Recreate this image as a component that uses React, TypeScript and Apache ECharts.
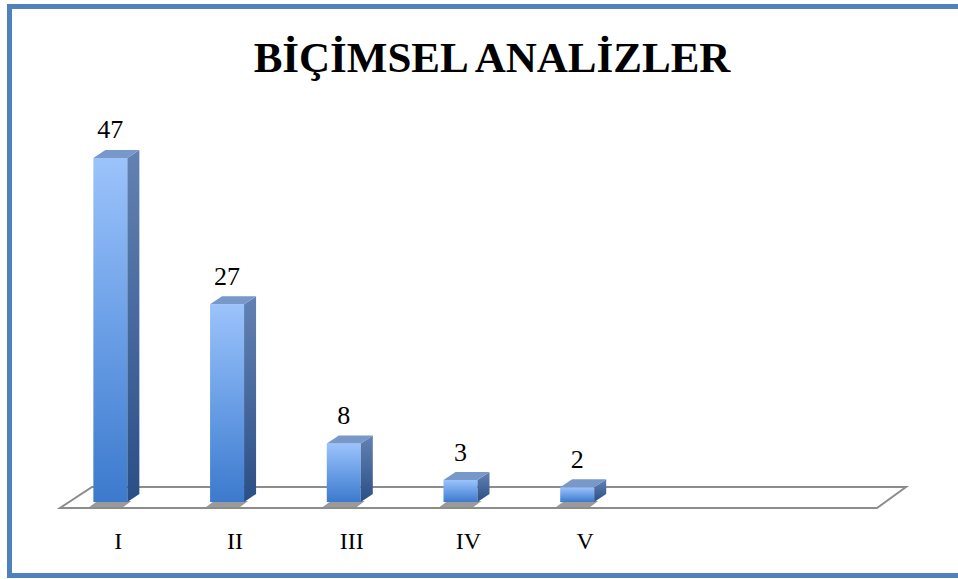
import React, { useEffect, useRef } from "react";
import * as echarts from "echarts";

const TITLE = "BİÇİMSEL ANALİZLER";
const categories = ["I", "II", "III", "IV", "V", "", ""];
const values = [47, 27, 8, 3, 2];

export default function App() {
  const ref = useRef<HTMLDivElement>(null);
  useEffect(() => {
    if (!ref.current) return;
    const chart = echarts.init(ref.current, null, { renderer: "svg" });
    const barData = values.map((v, i) => [i, v]);

    const frontGrad = new echarts.graphic.LinearGradient(0, 0, 0, 1, [
      { offset: 0, color: "#9cc3fb" },
      { offset: 0.5, color: "#6a9fe6" },
      { offset: 1, color: "#3c7acd" },
    ]);
    const sideGrad = new echarts.graphic.LinearGradient(0, 0, 0, 1, [
      { offset: 0, color: "#6382b3" },
      { offset: 1, color: "#2a4f86" },
    ]);

    const option: any = {
      animation: false,
      backgroundColor: "#ffffff",
      title: {
        text: TITLE,
        left: 487,
        top: 31,
        textAlign: "center",
        textStyle: {
          fontFamily: "Liberation Serif",
          fontWeight: "bold",
          fontSize: 43,
          color: "#000",
        },
      },
      grid: { left: 60, right: 81, top: 136, bottom: 77 },
      xAxis: {
        type: "category",
        data: categories,
        axisLine: { show: false },
        axisTick: { show: false },
        splitLine: { show: false },
        axisLabel: {
          color: "#000",
          fontFamily: "Liberation Serif",
          fontSize: 24,
          margin: 27,
        },
      },
      yAxis: { type: "value", min: 0, max: 50, show: false },
      graphic: [
        {
          type: "rect",
          shape: { x: 9.5, y: 6.5, width: 1000, height: 569 },
          style: { fill: "none", stroke: "#4f81bd", lineWidth: 5 },
          silent: true,
          z: 100,
        },
      ],
      series: [
        {
          type: "custom",
          data: [[0, 0]],
          z: 1,
          silent: true,
          renderItem: (params: any, api: any) => {
            const cs = params.coordSys;
            const y0 = cs.y + cs.height;
            const yf = y0 + 6;
            const yb = y0 - 15;
            return {
              type: "polygon",
              shape: {
                points: [
                  [cs.x, yf],
                  [cs.x + cs.width, yf],
                  [cs.x + cs.width + 29, yb],
                  [cs.x + 32, yb],
                ],
              },
              style: { fill: "#ffffff", stroke: "#8c8c8c", lineWidth: 2 },
            };
          },
        },
        {
          type: "custom",
          data: barData,
          encode: { x: 0, y: 1 },
          z: 2,
          renderItem: (params: any, api: any) => {
            const idx = api.value(0);
            const v = api.value(1);
            const top = api.coord([idx, v]);
            const base = api.coord([idx, 0]);
            const bw = 34;
            const dx = 12;
            const dy = 8;
            const x0 = top[0] - 8 - bw / 2;
            const x1 = x0 + bw;
            const yt = top[1];
            const yb = base[1];
            return {
              type: "group",
              children: [
                {
                  type: "polygon",
                  shape: {
                    points: [
                      [x0 - 4, yb + 5],
                      [x1 - 4, yb + 5],
                      [x1 + 4, yb - 1],
                      [x0 + 4, yb - 1],
                    ],
                  },
                  style: { fill: "#9a9a9a" },
                },
                {
                  type: "rect",
                  shape: { x: x0, y: yt, width: bw, height: yb - yt },
                  style: { fill: frontGrad },
                },
                {
                  type: "polygon",
                  shape: {
                    points: [
                      [x1, yt],
                      [x1 + dx, yt - dy],
                      [x1 + dx, yb - dy],
                      [x1, yb],
                    ],
                  },
                  style: { fill: sideGrad },
                },
                {
                  type: "polygon",
                  shape: {
                    points: [
                      [x0, yt],
                      [x0 + dx, yt - dy],
                      [x1 + dx, yt - dy],
                      [x1, yt],
                    ],
                  },
                  style: { fill: "#7898c9" },
                },
                {
                  type: "text",
                  style: {
                    text: String(v),
                    x: (x0 + x1) / 2,
                    y: yt - dy - 7,
                    textAlign: "center",
                    textVerticalAlign: "bottom",
                    fontFamily: "Liberation Serif",
                    fontSize: 26,
                    fill: "#000",
                  },
                },
              ],
            };
          },
        },
      ],
    };
    chart.setOption(option);
    return () => chart.dispose();
  }, []);
  return (
    <div
      ref={ref}
      style={{ position: "fixed", left: 0, top: 0, width: 958, height: 579 }}
    />
  );
}
